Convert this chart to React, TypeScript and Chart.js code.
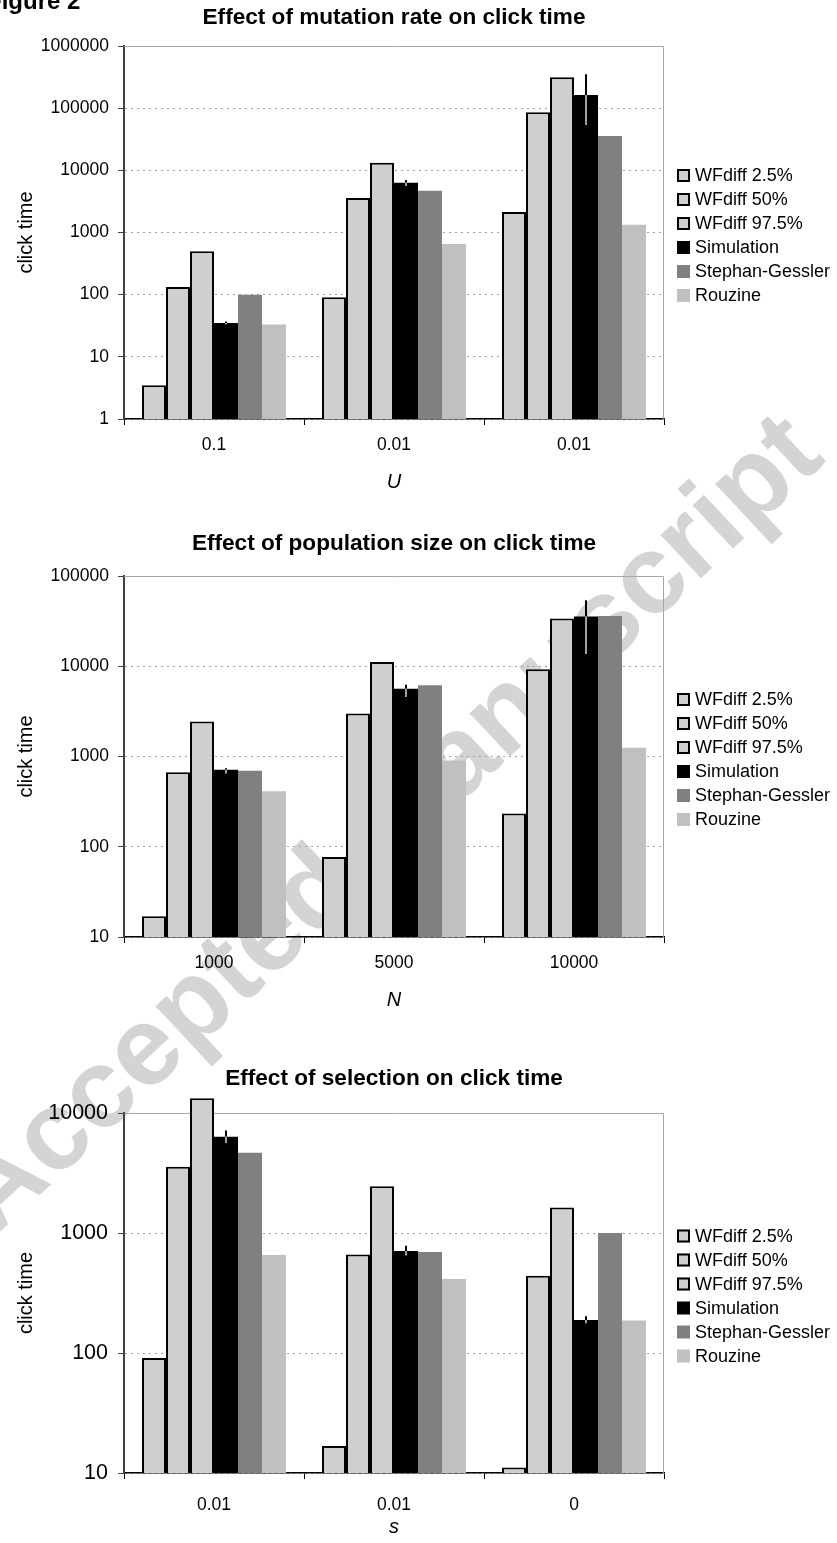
import React, { useEffect, useRef } from 'react';
import { Chart, registerables } from 'chart.js';

Chart.register(...registerables);

const FONT = "'Liberation Sans', Arial, Helvetica, sans-serif";

// ---- series shared by all three panels ----
const seriesLabels = ['WFdiff 2.5%', 'WFdiff 50%', 'WFdiff 97.5%', 'Simulation', 'Stephan-Gessler', 'Rouzine'];

// ---- Panel 1: effect of mutation rate (U) ----
const uCategories = ['0.1', '0.01', '0.01'];
const uWf25 = [3.5, 91, 2130];
const uWf50 = [133, 3600, 86000];
const uWf975 = [500, 13200, 314000];
const uSim = [35, 6300, 163000];
const uSimLow = [33, 5600, 53500];
const uSimHigh = [37, 7000, 351000];
const uSG = [100, 4700, 35700];
const uRouzine = [33, 655, 1330];
const uTicks = [1, 10, 100, 1000, 10000, 100000, 1000000];

// ---- Panel 2: effect of population size (N) ----
const nCategories = ['1000', '5000', '10000'];
const nWf25 = [17, 77, 233];
const nWf50 = [671, 3000, 9270];
const nWf975 = [2450, 11170, 33800];
const nSim = [713, 5620, 35600];
const nSimLow = [650, 4550, 13700];
const nSimHigh = [740, 6230, 53900];
const nSG = [695, 6170, 36000];
const nRouzine = [411, 903, 1250];
const nTicks = [10, 100, 1000, 10000, 100000];

// ---- Panel 3: effect of selection (s) ----
const sCategories = ['0.01', '0.01', '0'];
const sWf25 = [91, 16.8, 11.1];
const sWf50 = [3560, 663, 440];
const sWf975 = [13270, 2455, 1628];
const sSim = [6340, 707, 188];
const sSimLow = [5610, 650, 177];
const sSimHigh = [7160, 784, 202];
const sSG = [4660, 694, 1000];
const sRouzine = [655, 413, 187];
const sTicks = [10, 100, 1000, 10000];

// ---- styling ----
const seriesFill = ['#cfcfd1', '#cfcfd1', '#cfcfd1', '#000000', '#808080', '#c0c0c0'];
const seriesBorderWidth = [2, 2, 2, 0, 0, 0];

const PAGE_W = 837;
const PAGE_H = 1543;
const PLOT_LEFT = 124;
const PLOT_RIGHT = 664;

const panels = [
  {
    key: 'u', top: 0, height: 515, plotTop: 46, plotBottom: 419, titleCenter: 18,
    labelCenter: 445, axisTitleCenter: 482, tickSize: 17.5, tickPad: 9,
    title: 'Effect of mutation rate on click time', xTitle: 'U', yTitle: 'click time',
    categories: uCategories, series: [uWf25, uWf50, uWf975, uSim, uSG, uRouzine],
    low: uSimLow, high: uSimHigh, ticks: uTicks,
  },
  {
    key: 'n', top: 515, height: 520, plotTop: 61, plotBottom: 422, titleCenter: 29,
    labelCenter: 448, axisTitleCenter: 485, tickSize: 17.5, tickPad: 9,
    title: 'Effect of population size on click time', xTitle: 'N', yTitle: 'click time',
    categories: nCategories, series: [nWf25, nWf50, nWf975, nSim, nSG, nRouzine],
    low: nSimLow, high: nSimHigh, ticks: nTicks,
  },
  {
    key: 's', top: 1035, height: 508, plotTop: 78, plotBottom: 438, titleCenter: 44,
    labelCenter: 470, axisTitleCenter: 492, tickSize: 21.5, tickPad: 10,
    title: 'Effect of selection on click time', xTitle: 's', yTitle: 'click time',
    categories: sCategories, series: [sWf25, sWf50, sWf975, sSim, sSG, sRouzine],
    low: sSimLow, high: sSimHigh, ticks: sTicks,
  },
];

const figurePlugin = {
  id: 'figureExtras',
  beforeDatasetsDraw(chart: any) {
    const { ctx, chartArea } = chart;
    const { left, right, top, bottom } = chartArea;
    ctx.save();
    ctx.strokeStyle = '#a6a6a6';
    ctx.lineWidth = 1;
    ctx.setLineDash([]);
    ctx.beginPath();
    ctx.moveTo(left, top + 0.5);
    ctx.lineTo(right - 0.5, top + 0.5);
    ctx.lineTo(right - 0.5, bottom);
    ctx.stroke();
    ctx.restore();
  },
  afterDatasetsDraw(chart: any, _args: any, opts: any) {
    const { ctx } = chart;
    const meta = chart.getDatasetMeta(opts.errIndex);
    const ys = chart.scales.y;
    ctx.save();
    ctx.lineWidth = 2;
    ctx.setLineDash([]);
    meta.data.forEach((bar: any, i: number) => {
      const x = Math.round(bar.x);
      const yHi = ys.getPixelForValue(opts.high[i]);
      const yLo = ys.getPixelForValue(opts.low[i]);
      const yTop = bar.y;
      if (yHi < yTop) {
        ctx.strokeStyle = '#000000';
        ctx.beginPath();
        ctx.moveTo(x, yHi);
        ctx.lineTo(x, yTop);
        ctx.stroke();
      }
      ctx.strokeStyle = '#a0a0a0';
      ctx.beginPath();
      ctx.moveTo(x, Math.max(yTop, yHi));
      ctx.lineTo(x, yLo);
      ctx.stroke();
    });
    ctx.restore();
  },
  afterDraw(chart: any) {
    const { ctx, chartArea } = chart;
    const cy = (chartArea.top + chartArea.bottom) / 2 + 3;
    const step = 24;
    const y0 = cy - step * 2.5;
    const bx = 677;
    const bs = 13;
    ctx.save();
    ctx.font = `18px ${FONT}`;
    ctx.textBaseline = 'middle';
    ctx.textAlign = 'left';
    chart.data.datasets.forEach((ds: any, k: number) => {
      const y = y0 + k * step;
      ctx.fillStyle = ds.backgroundColor;
      ctx.fillRect(bx, y - bs / 2, bs, bs);
      if (ds.borderWidth > 0) {
        ctx.strokeStyle = '#000000';
        ctx.lineWidth = 2;
        ctx.strokeRect(bx + 1, y - bs / 2 + 1, bs - 2, bs - 2);
      }
      ctx.fillStyle = '#000000';
      ctx.fillText(ds.label, 695, y + 1);
    });
    ctx.restore();
  },
};

function Panel({ p }: { p: any }) {
  const ref = useRef<HTMLCanvasElement | null>(null);
  useEffect(() => {
    if (!ref.current) return;
    const H = p.height;
    const chart = new Chart(ref.current, {
      type: 'bar',
      data: {
        labels: p.categories,
        datasets: seriesLabels.map((lab, k) => ({
          label: lab,
          data: p.series[k],
          backgroundColor: seriesFill[k],
          borderColor: '#000000',
          borderWidth: seriesBorderWidth[k],
          borderSkipped: 'start',
          categoryPercentage: 0.8,
          barPercentage: 1.0,
          clip: false,
        })),
      },
      options: {
        responsive: false,
        maintainAspectRatio: false,
        animation: false,
        devicePixelRatio: 1,
        layout: { padding: { left: 0, right: PAGE_W - PLOT_RIGHT, top: 0, bottom: 0 } },
        plugins: {
          legend: { display: false },
          tooltip: { enabled: false },
          title: {
            display: true,
            text: p.title,
            fullSize: false,
            color: '#000000',
            font: { family: FONT, size: 22.6, weight: 'bold', lineHeight: 1.2 },
            padding: { top: p.titleCenter - 13.56, bottom: p.plotTop - p.titleCenter - 13.56 },
          },
          figureExtras: { errIndex: 3, low: p.low, high: p.high },
        },
        scales: {
          x: {
            type: 'category',
            offset: true,
            grid: {
              display: true,
              drawOnChartArea: false,
              drawTicks: true,
              tickLength: 6,
              offset: true,
              color: '#000000',
              tickColor: '#000000',
            },
            border: { display: true, color: '#000000', width: 1.5 },
            ticks: {
              color: '#000000',
              font: { family: FONT, size: 17.5, lineHeight: 1.2 },
              padding: p.labelCenter - p.plotBottom - 6 - 10.5,
              maxRotation: 0,
              autoSkip: false,
            },
            title: {
              display: true,
              text: p.xTitle,
              color: '#000000',
              font: { family: FONT, size: 20, style: 'italic', lineHeight: 1.2 },
              padding: { top: 0, bottom: H - p.axisTitleCenter - 12 },
            },
            afterFit: (s: any) => { s.height = H - p.plotBottom; },
          },
          y: {
            type: 'logarithmic',
            min: p.ticks[0],
            max: p.ticks[p.ticks.length - 1],
            afterBuildTicks: (axis: any) => { axis.ticks = p.ticks.map((v: number) => ({ value: v })); },
            grid: {
              display: true,
              drawOnChartArea: true,
              drawTicks: true,
              tickLength: 6,
              color: '#a0a0a0',
              lineWidth: 1,
              tickColor: '#404040',
              tickWidth: 1,
              tickBorderDash: [],
            },
            border: { display: true, color: '#404040', width: 2, dash: [2, 4] },
            ticks: {
              color: '#000000',
              font: { family: FONT, size: p.tickSize },
              padding: p.tickPad,
              autoSkip: false,
              callback: (v: any) => String(v),
            },
            title: {
              display: true,
              text: p.yTitle,
              color: '#000000',
              font: { family: FONT, size: 20, lineHeight: 1.2 },
              padding: { top: 14, bottom: 0 },
            },
            afterFit: (s: any) => { s.width = PLOT_LEFT; },
          },
        },
      },
      plugins: [figurePlugin],
    } as any);
    return () => chart.destroy();
  }, [p]);
  return (
    <canvas
      ref={ref}
      width={PAGE_W}
      height={p.height}
      style={{ position: 'absolute', left: 0, top: p.top, width: PAGE_W, height: p.height, zIndex: 1 }}
    />
  );
}

// watermark: font 112px, baseline offset in a 112px line box ~ 95px
const WM_SIZE = 112;
const WM_BASE = 95;

export default function App() {
  return (
    <div
      style={{
        position: 'absolute', left: 0, top: 0, width: PAGE_W, height: PAGE_H,
        overflow: 'hidden', background: '#ffffff', fontFamily: FONT,
      }}
    >
      <div
        style={{
          position: 'absolute', left: -5, top: 1238 - WM_BASE, transformOrigin: `0px ${WM_BASE}px`,
          transform: 'rotate(-43deg)', fontSize: WM_SIZE, lineHeight: `${WM_SIZE}px`, fontWeight: 'bold',
          color: '#d4d4d4', whiteSpace: 'nowrap', zIndex: 0, fontFamily: FONT,
        }}
      >
        Accepted manuscript
      </div>
      <div
        style={{
          position: 'absolute', left: -13, top: 9 - 20, fontSize: 24, lineHeight: '24px',
          fontWeight: 'bold', color: '#000000', whiteSpace: 'nowrap', zIndex: 2, fontFamily: FONT,
        }}
      >
        Figure 2
      </div>
      {panels.map((p) => (
        <Panel key={p.key} p={p} />
      ))}
    </div>
  );
}
